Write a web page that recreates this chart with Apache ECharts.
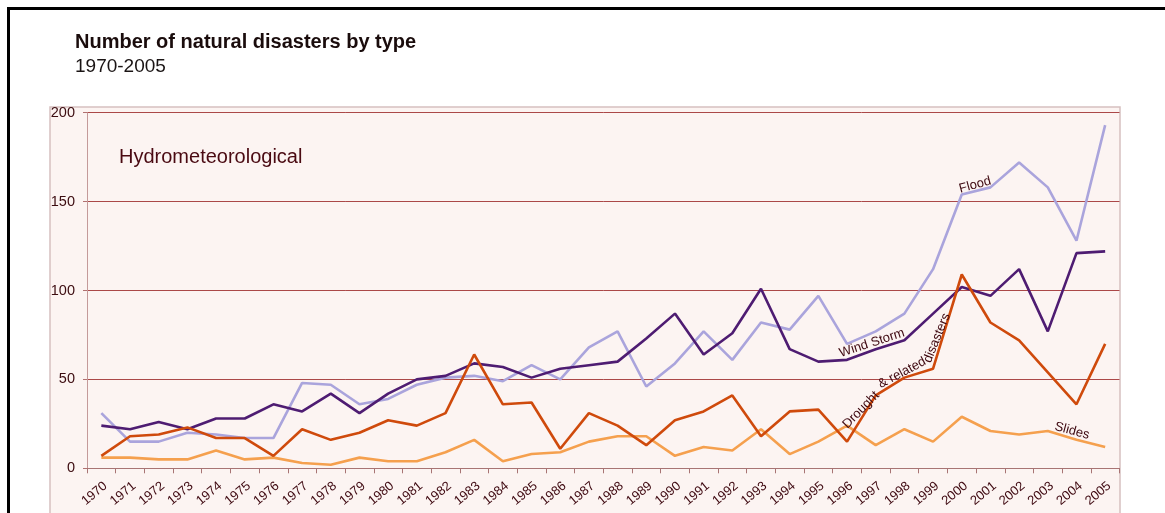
<!DOCTYPE html>
<html>
<head>
<meta charset="utf-8">
<script src="https://cdn.jsdelivr.net/npm/echarts@6/dist/echarts.min.js"></script>
<style>
html,body{margin:0;padding:0;background:#fff;}
#main{width:1165px;height:513px;}
</style>
</head>
<body>
<div id="main"></div>
<script>
var years = ['1970','1971','1972','1973','1974','1975','1976','1977','1978','1979','1980','1981','1982','1983','1984','1985','1986','1987','1988','1989','1990','1991','1992','1993','1994','1995','1996','1997','1998','1999','2000','2001','2002','2003','2004','2005'];
var flood = [31,15,15,20,19,17,17,48,47,36,39,47,51,52,49,58,50,68,77,46,59,77,61,82,78,97,70,77,87,112,154,158,172,158,128,193];
var windStorm = [24,22,26,22,28,28,36,32,42,31,42,50,52,59,57,51,56,58,60,73,87,64,76,101,67,60,61,67,72,87,102,97,112,77,121,122];
var drought = [7,18,19,23,17,17,7,22,16,20,27,24,31,64,36,37,11,31,24,13,27,32,41,18,32,33,15,41,51,56,109,82,72,54,36,70];
var slides = [6,6,5,5,10,5,6,3,2,6,4,4,9,16,4,8,9,15,18,18,7,12,10,22,8,15,24,13,22,15,29,21,19,21,16,12];
var yTicks = [0,50,100,150,200];

var FONT = 'Liberation Sans, Arial, sans-serif';
var LABEL = '#3e0810';

var chart = echarts.init(document.getElementById('main'), null, {renderer:'canvas'});

function lineSeries(name, data, color, z){
  return {
    name: name, type: 'line', data: data, symbol: 'none', z: z,
    lineStyle: {color: color, width: 2.6}, itemStyle:{color: color},
    animation: false
  };
}

var option = {
  animation: false,
  textStyle: {fontFamily: FONT},
  grid: {left: 87, right: 45.5, top: 112.7, bottom: 44.7, containLabel: false},
  xAxis: {
    type: 'category', data: years, boundaryGap: true,
    axisLine: {show: true, lineStyle: {color: '#a87474', width: 1}},
    axisTick: {show: true, alignWithLabel: false, length: 5, lineStyle: {color: '#a87474'}},
    axisLabel: {rotate: 40, interval: 0, fontSize: 13, color: LABEL, fontFamily: FONT, margin: 11,
      align: 'right', verticalAlign: 'top'}
  },
  yAxis: {
    type: 'value', min: 0, max: 200, interval: 50,
    axisLine: {show: true, lineStyle: {color: '#c49a9a', width: 1}},
    axisTick: {show: true, length: 4, lineStyle: {color: '#b07070'}},
    axisLabel: {fontSize: 14.5, color: '#3c0c10', fontFamily: FONT, margin: 12,
      formatter: function(v){ return yTicks.indexOf(v) >= 0 ? String(v) : ''; }},
    splitLine: {show: true, lineStyle: {color: '#ab4848', width: 1}}
  },
  graphic: [
    {type:'rect', z:-10, silent:true, shape:{x:50, y:107, width:1070, height:420},
     style:{fill:'#fcf4f2', stroke:'#d6c0c0', lineWidth:1.5}},
    {type:'polyline', z:10, silent:true, shape:{points:[[8.5,530],[8.5,8.5],[1180,8.5]]},
     style:{stroke:'#000', lineWidth:3, fill:null}},
    {type:'text', left:75, top:32, z:10, style:{text:'Number of natural disasters by type', font:'bold 20px Liberation Sans, Arial, sans-serif', fill:'#1a0c0c'}},
    {type:'text', left:75, top:57, z:10, style:{text:'1970-2005', font:'19px Liberation Sans, Arial, sans-serif', fill:'#1a1414'}},
    {type:'text', x:119, y:157, z:10, style:{text:'Hydrometeorological', font:'20px Liberation Sans, Arial, sans-serif', fill:'#4a0a12', verticalAlign:'middle', align:'left'}},
    {type:'text', x:975, y:185, rotation: 15*Math.PI/180, z:10, style:{text:'Flood', font:'13px Liberation Sans, Arial, sans-serif', fill:LABEL, align:'center', verticalAlign:'middle'}},
    {type:'text', x:872, y:343, rotation: 18*Math.PI/180, z:10, style:{text:'Wind Storm', font:'13px Liberation Sans, Arial, sans-serif', fill:LABEL, align:'center', verticalAlign:'middle'}},
    {type:'text', x:861, y:410, rotation: 46*Math.PI/180, z:10, style:{text:'Drought', font:'13px Liberation Sans, Arial, sans-serif', fill:LABEL, align:'center', verticalAlign:'middle'}},
    {type:'text', x:902, y:373, rotation: 28*Math.PI/180, z:10, style:{text:'& related', font:'13px Liberation Sans, Arial, sans-serif', fill:LABEL, align:'center', verticalAlign:'middle'}},
    {type:'text', x:937, y:338, rotation: 68*Math.PI/180, z:10, style:{text:'disasters', font:'13px Liberation Sans, Arial, sans-serif', fill:LABEL, align:'center', verticalAlign:'middle'}},
    {type:'text', x:1072, y:431, rotation: -15*Math.PI/180, z:10, style:{text:'Slides', font:'13px Liberation Sans, Arial, sans-serif', fill:LABEL, align:'center', verticalAlign:'middle'}}
  ],
  series: [
    lineSeries('Flood', flood, '#aaa4dc', 2),
    lineSeries('Wind Storm', windStorm, '#4e1c72', 3),
    lineSeries('Slides', slides, '#f5a04e', 4),
    lineSeries('Drought & related disasters', drought, '#cf4a0c', 5)
  ]
};
chart.setOption(option);
</script>
</body>
</html>
